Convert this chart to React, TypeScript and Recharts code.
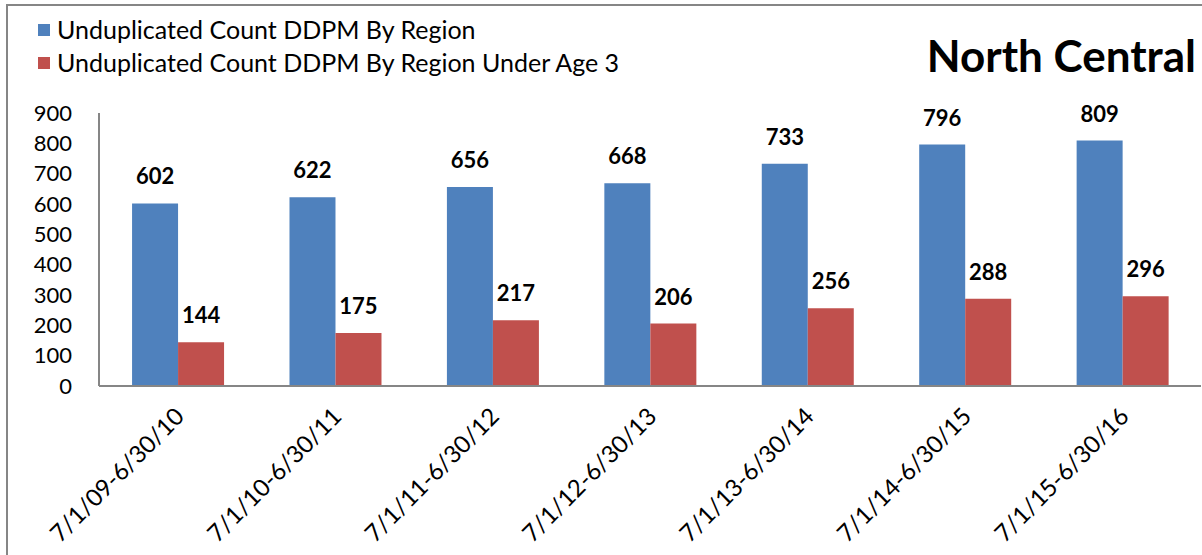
import React from "react";
import { BarChart, Bar, XAxis, YAxis, LabelList } from "recharts";

const PERIODS = [
  "7/1/09-6/30/10",
  "7/1/10-6/30/11",
  "7/1/11-6/30/12",
  "7/1/12-6/30/13",
  "7/1/13-6/30/14",
  "7/1/14-6/30/15",
  "7/1/15-6/30/16",
];
const ALL_COUNTS = [602, 622, 656, 668, 733, 796, 809];
const UNDER3_COUNTS = [144, 175, 217, 206, 256, 288, 296];
const Y_TICKS = [0, 100, 200, 300, 400, 500, 600, 700, 800, 900];

const SERIES = [
  { key: "all", name: "Unduplicated Count DDPM By Region", color: "#4F81BD" },
  { key: "under3", name: "Unduplicated Count DDPM By Region Under Age 3", color: "#C0504D" },
];

const data = PERIODS.map((p, i) => ({
  period: p,
  all: ALL_COUNTS[i],
  under3: UNDER3_COUNTS[i],
}));

const FONT = "Lato, 'Open Sans', sans-serif";

function PeriodTick(props: any) {
  const { x, y, payload } = props;
  return (
    <g transform={`translate(${x + 8},${y + 24}) rotate(-45)`}>
      <text textAnchor="end" fontSize={24} fill="#000" fontFamily={FONT}>
        {payload.value}
      </text>
    </g>
  );
}

export default function App() {
  return (
    <div
      style={{
        position: "absolute",
        left: 0,
        top: 0,
        width: 1202,
        height: 555,
        background: "#fff",
        overflow: "hidden",
      }}
    >
      {/* outer frame, only left and top edges are visible */}
      <div
        style={{
          position: "absolute",
          left: 6,
          top: 4,
          width: 1210,
          height: 570,
          border: "2px solid #868686",
        }}
      />
      {/* legend */}
      <div
        style={{
          position: "absolute",
          left: 38,
          top: 13,
          fontFamily: FONT,
          fontSize: 25,
          color: "#000",
          lineHeight: "33px",
        }}
      >
        {SERIES.map((s) => (
          <div key={s.key} style={{ display: "flex", alignItems: "center" }}>
            <span
              style={{
                display: "inline-block",
                width: 12,
                height: 12,
                background: s.color,
                marginRight: 7,
              }}
            />
            {s.name}
          </div>
        ))}
      </div>
      <div
        style={{
          position: "absolute",
          right: 6,
          top: 28,
          fontFamily: FONT,
          fontWeight: 700,
          fontSize: 44,
          lineHeight: "54px",
          color: "#000",
        }}
      >
        North Central
      </div>
      <BarChart
        width={1202}
        height={555}
        data={data}
        margin={{ top: 113, right: 1, left: 0, bottom: 0 }}
        barCategoryGap="21%"
        barGap={0}
        style={{ position: "absolute", left: 0, top: 0 }}
      >
        <XAxis
          dataKey="period"
          tickLine={false}
          axisLine={{ stroke: "#868686", strokeWidth: 2 }}
          tick={<PeriodTick />}
          interval={0}
          height={169}
        />
        <YAxis
          domain={[0, 900]}
          ticks={Y_TICKS}
          interval={0}
          width={99}
          tickLine={false}
          tickSize={0}
          tickMargin={27}
          axisLine={{ stroke: "#868686", strokeWidth: 2 }}
          tick={{ fontSize: 22, fill: "#000", fontFamily: FONT }}
        />
        {SERIES.map((s) => (
          <Bar key={s.key} dataKey={s.key} name={s.name} fill={s.color} isAnimationActive={false}>
            <LabelList
              dataKey={s.key}
              position="top"
              offset={19}
              style={{ fontSize: 22, fontWeight: 700, fill: "#000", fontFamily: FONT }}
            />
          </Bar>
        ))}
      </BarChart>
    </div>
  );
}
